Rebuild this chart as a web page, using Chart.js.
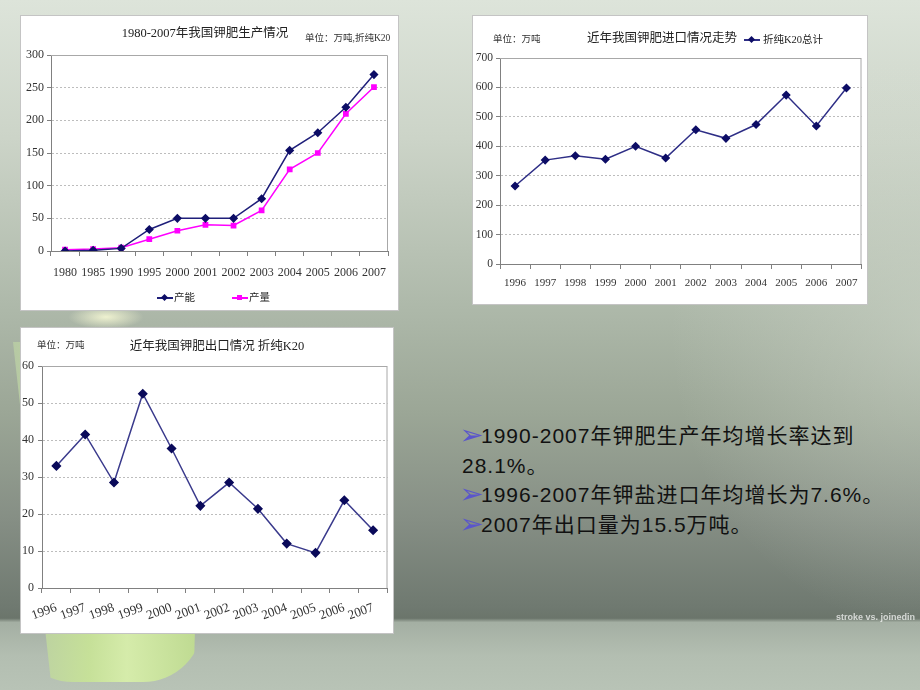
<!DOCTYPE html>
<html>
<head>
<meta charset="utf-8">
<script src="https://cdn.jsdelivr.net/npm/chart.js@4.4.1/dist/chart.umd.min.js"></script>
<style>
  html, body { margin: 0; padding: 0; }
  body {
    width: 920px; height: 690px; position: relative; overflow: hidden;
    background:
      radial-gradient(ellipse 260px 300px at 930px 330px, rgba(215,222,210,0.45), rgba(215,222,210,0) 100%),
      linear-gradient(to bottom, #dde4da 0%, #ccd4c8 20%, #adb8a9 45%, #9ba696 60%, #868f85 75%, #6f7970 88%, #6b756b 89.6%, #a4afa3 90.2%, #b3beb1 95%, #b8c3b6 100%);
    font-family: "Liberation Sans", "Noto Sans CJK SC", sans-serif;
  }
  .cup { position: absolute; left: 13px; top: 342px; width: 190px; height: 340px;
         background: linear-gradient(to right, rgba(185,205,165,0.85), rgba(200,228,150,0.9) 40%, rgba(215,238,170,0.95) 60%, rgba(190,220,140,0.9));
         clip-path: polygon(0 0, 100% 0, 95% 100%, 20% 100%);
         border-radius: 0 0 60px 60px; }
  .glow { position: absolute; left: 68px; top: 305px; width: 76px; height: 24px;
          background: radial-gradient(ellipse at center, rgba(250,252,215,0.85), rgba(250,252,215,0) 70%); }
  .box { position: absolute; background: #fff; border: 1px solid #c4c4c4; }
  .box canvas { position: absolute; left: 0; top: 0; }
  .t { position: absolute; white-space: nowrap; color: #222;
       font-family: "Liberation Serif", "Noto Sans CJK SC", serif; line-height: 1; }
  .ctr { transform: translate(-50%, -50%); }
  .mid { transform: translateY(-50%); }
  .leg { position: absolute; height: 0; }
  .leg .ln { position: absolute; top: -1px; width: 16px; height: 1.5px; }
  .leg .mk { position: absolute; width: 5px; height: 5px; top: -3px; left: 5px; }
  .notes { position: absolute; left: 462px; top: 421px; font-size: 21px; line-height: 29px;
           letter-spacing: 1px; color: #111; white-space: nowrap;
           font-family: "Liberation Sans", "Noto Sans CJK SC", sans-serif; }
  .notes .b { display: inline-block; width: 19px; color: #5a55cc; font-family: "DejaVu Sans", sans-serif;
              font-size: 20px; letter-spacing: 0; transform: scale(1.45, 1.35); transform-origin: 30% 60%; }
  .wm { position: absolute; left: 836px; top: 612px; font-size: 9px; color: rgba(255,255,255,0.7);
        filter: blur(0.7px); font-family: "Liberation Sans", sans-serif; font-weight: bold; }
</style>
</head>
<body>
<div class="cup"></div>
<div class="glow"></div>

<div class="box" style="left:20px;top:15px;width:377px;height:294px;"><canvas id="c1" width="377" height="294"></canvas></div>
<div class="box" style="left:472px;top:15px;width:394px;height:288px;"><canvas id="c2" width="394" height="288"></canvas></div>
<div class="box" style="left:20px;top:327px;width:372px;height:305px;"><canvas id="c3" width="372" height="305"></canvas></div>

<div class="t ctr" style="left:205px;top:33px;font-size:12.5px;">1980-2007年我国钾肥生产情况</div>
<div class="t mid" style="left:305px;top:39px;font-size:9.5px;color:#333;">单位：万吨,折纯K20</div>
<div class="leg" style="left:157px;top:298px;">
  <div class="ln" style="background:#1f1f7a;"></div>
  <div class="mk" style="background:#0d0d66;transform:rotate(45deg);"></div>
  <div class="t mid" style="left:17px;top:0;font-size:10.5px;">产能</div>
</div>
<div class="leg" style="left:232px;top:298px;">
  <div class="ln" style="background:#ff00ff;"></div>
  <div class="mk" style="background:#ff00ff;"></div>
  <div class="t mid" style="left:17px;top:0;font-size:10.5px;">产量</div>
</div>

<div class="t mid" style="left:493px;top:40px;font-size:9.5px;color:#333;">单位：万吨</div>
<div class="t ctr" style="left:662px;top:38px;font-size:12.5px;">近年我国钾肥进口情况走势</div>
<div class="leg" style="left:744px;top:40px;">
  <div class="ln" style="background:#2e2e86;"></div>
  <div class="mk" style="background:#0d0d66;transform:rotate(45deg);"></div>
  <div class="t mid" style="left:19px;top:0;font-size:10.5px;">折纯K20总计</div>
</div>

<div class="t mid" style="left:37px;top:346px;font-size:9.5px;color:#333;">单位：万吨</div>
<div class="t ctr" style="left:217px;top:346px;font-size:12.5px;">近年我国钾肥出口情况 折纯K20</div>

<div class="notes">
  <div><span class="b">➢</span>1990-2007年钾肥生产年均增长率达到</div>
  <div>28.1%。</div>
  <div><span class="b">➢</span>1996-2007年钾盐进口年均增长为7.6%。</div>
  <div><span class="b">➢</span>2007年出口量为15.5万吨。</div>
</div>
<div class="wm">stroke vs. joinedin</div>

<script>
// chart 1: production
const years1 = ['1980', '1985', '1990', '1995', '2000', '2001', '2002', '2003', '2004', '2005', '2006', '2007'];
const capacity = [0, 1, 4, 33, 50, 50, 50, 80, 154, 181, 220, 270];
const output = [2, 3, 5, 18, 31, 40, 39, 62, 125, 150, 210, 251];
const yMax1 = 300, yStep1 = 50;

// chart 2: imports
const years2 = ['1996', '1997', '1998', '1999', '2000', '2001', '2002', '2003', '2004', '2005', '2006', '2007'];
const imports = [265, 353, 368, 356, 400, 360, 456, 427, 474, 574, 469, 598];
const yMax2 = 700, yStep2 = 100;

// chart 3: exports
const exports = [33, 41.5, 28.5, 52.5, 37.7, 22.2, 28.5, 21.4, 12, 9.5, 23.7, 15.6];
const yMax3 = 60, yStep3 = 10;

const serif = "'Liberation Serif', serif";

// light frame on top/right of the plot area
const plotFrame = {
  id: 'plotFrame',
  beforeDatasetsDraw(chart) {
    const { ctx, chartArea: a } = chart;
    ctx.save();
    ctx.strokeStyle = '#a8a8a8';
    ctx.lineWidth = 1;
    ctx.beginPath();
    ctx.moveTo(a.left, a.top + 0.5);
    ctx.lineTo(a.right - 0.5, a.top + 0.5);
    ctx.lineTo(a.right - 0.5, a.bottom);
    ctx.stroke();
    ctx.restore();
  }
};

function lineChart(id, labels, datasets, cfg) {
  return new Chart(document.getElementById(id), {
    type: 'line',
    data: { labels, datasets },
    plugins: [plotFrame],
    options: {
      responsive: false,
      animation: false,
      devicePixelRatio: 1,
      layout: { padding: { left: 0, top: cfg.top, right: cfg.right, bottom: cfg.bottom } },
      plugins: { legend: { display: false }, title: { display: false }, tooltip: { enabled: false } },
      scales: {
        x: {
          offset: true,
          afterFit: (s) => { s.height = cfg.xH; },
          grid: { display: true, drawOnChartArea: false, drawTicks: true, offset: true, tickLength: 5, tickColor: '#808080' },
          border: { display: true, color: '#808080', width: 1 },
          ticks: { color: '#333', padding: cfg.xPad, autoSkip: false, minRotation: cfg.rot, maxRotation: cfg.rot,
                   font: { family: serif, size: cfg.xFont } }
        },
        y: {
          min: 0, max: cfg.max,
          afterFit: (s) => { s.width = cfg.yW; },
          grid: { color: '#bdbdbd', lineWidth: 1, drawTicks: true, tickLength: 4, tickColor: '#808080', tickBorderDash: [] },
          border: { display: true, color: '#808080', width: 1, dash: [2, 2] },
          ticks: { stepSize: cfg.step, color: '#333', padding: cfg.yPad, font: { family: serif, size: cfg.yFont } }
        }
      }
    }
  });
}

lineChart('c1', years1, [
  { label: '产能', data: capacity, borderColor: '#1f1f7a', borderWidth: 1.5, pointStyle: 'rectRot',
    pointRadius: 3.5, pointBackgroundColor: '#0d0d66', pointBorderColor: '#0d0d66', tension: 0 },
  { label: '产量', data: output, borderColor: '#ff00ff', borderWidth: 1.5, pointStyle: 'rect',
    pointRadius: 3, pointBackgroundColor: '#ff00ff', pointBorderColor: '#ff00ff', tension: 0 }
], { top: 39, right: 10, bottom: 24, xH: 35, yW: 30, max: yMax1, step: yStep1,
     xPad: 10, yPad: 3, xFont: 12, yFont: 12, rot: 0 });

lineChart('c2', years2, [
  { label: '折纯K20总计', data: imports, borderColor: '#2e2e86', borderWidth: 1.5, pointStyle: 'rectRot',
    pointRadius: 3.5, pointBackgroundColor: '#0d0d66', pointBorderColor: '#0d0d66', tension: 0 }
], { top: 42, right: 5, bottom: 10, xH: 30, yW: 27, max: yMax2, step: yStep2,
     xPad: 8, yPad: 3, xFont: 11, yFont: 11.5, rot: 0 });

lineChart('c3', years2, [
  { label: '出口', data: exports, borderColor: '#3a3a8c', borderWidth: 1.5, pointStyle: 'rectRot',
    pointRadius: 4, pointBackgroundColor: '#0a0a5a', pointBorderColor: '#0a0a5a', tension: 0 }
], { top: 38, right: 3, bottom: 5, xH: 40, yW: 21, max: yMax3, step: yStep3,
     xPad: 7, yPad: 4, xFont: 13, yFont: 12, rot: 20 });
</script>
</body>
</html>
